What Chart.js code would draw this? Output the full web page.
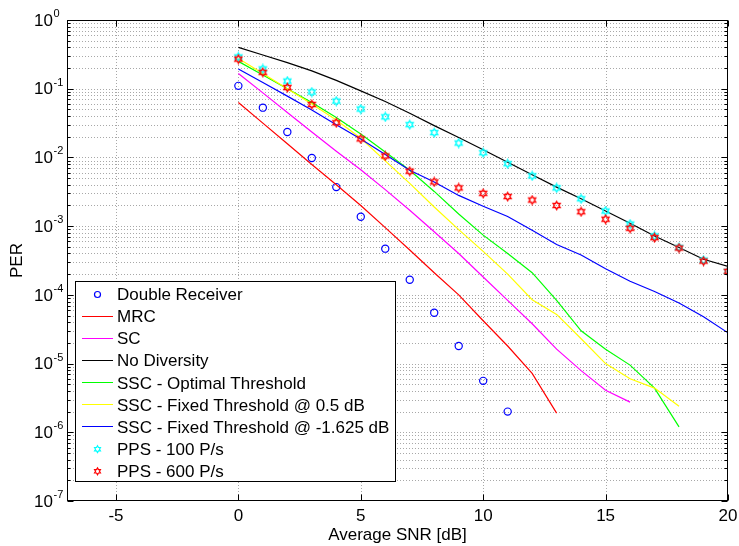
<!DOCTYPE html>
<html>
<head>
<meta charset="utf-8">
<title>PER vs Average SNR</title>
<script src="https://cdn.jsdelivr.net/npm/chart.js@4.4.1/dist/chart.umd.min.js"></script>
<style>
  html, body { margin: 0; padding: 0; background: #fff; }
  #wrap { width: 739px; height: 546px; }
</style>
</head>
<body>
<div id="wrap"><canvas id="perChart"></canvas></div>
<script>
// SNR points (dB), every curve starts at 0 dB
const snr = [0, 1, 2, 3, 4, 5, 6, 7, 8, 9, 10, 11, 12, 13, 14, 15, 16, 17, 18, 19, 20];

// PER values
const doubleReceiver = [0.11, 0.053, 0.0234, 0.0098, 0.0037, 0.00137, 4.7e-4, 1.66e-4, 5.5e-5, 1.8e-5, 5.6e-6, 2.0e-6];
const mrc = [0.063, 0.0316, 0.0158, 0.0079, 0.0040, 0.0020, 9.5e-4, 4.5e-4, 2.1e-4, 1.0e-4, 4.2e-5, 1.8e-5, 7.2e-6, 1.9e-6];
const sc = [0.166, 0.087, 0.045, 0.0234, 0.0123, 0.0066, 0.0034, 0.0017, 8.3e-4, 4.0e-4, 1.82e-4, 8.3e-5, 3.8e-5, 1.62e-5, 7.9e-6, 4.1e-6, 2.75e-6];
const noDiversity = [0.40, 0.31, 0.24, 0.182, 0.132, 0.093, 0.065, 0.044, 0.029, 0.0195, 0.0129, 0.0085, 0.0056, 0.0037, 0.0025, 0.00166, 0.0011, 7.2e-4, 4.9e-4, 3.3e-4, 2.6e-4];
const sscOptimal = [0.25, 0.158, 0.10, 0.063, 0.038, 0.022, 0.012, 0.0065, 0.0032, 0.0015, 7.4e-4, 4.0e-4, 2.1e-4, 8.3e-5, 3.0e-5, 1.62e-5, 9.5e-6, 4.4e-6, 1.2e-6];
const sscFixed05 = [0.275, 0.166, 0.10, 0.060, 0.035, 0.019, 0.0089, 0.0042, 0.0019, 8.9e-4, 4.3e-4, 2.0e-4, 8.5e-5, 5.2e-5, 2.3e-5, 1.0e-5, 6.0e-6, 4.4e-6, 2.4e-6];
const sscFixedNeg = [0.194, 0.123, 0.078, 0.049, 0.030, 0.0186, 0.011, 0.0065, 0.0044, 0.0028, 0.00195, 0.00138, 8.7e-4, 5.4e-4, 3.8e-4, 2.4e-4, 1.58e-4, 1.12e-4, 7.6e-5, 4.8e-5, 2.8e-5];
const pps100 = [0.29, 0.194, 0.129, 0.0895, 0.066, 0.0506, 0.039, 0.030, 0.023, 0.0162, 0.0117, 0.0081, 0.0054, 0.0036, 0.0025, 0.00166, 0.00107, 7.2e-4, 4.9e-4, 3.2e-4, 2.2e-4];
const pps600 = [0.27, 0.173, 0.104, 0.059, 0.032, 0.0186, 0.0105, 0.0063, 0.0044, 0.0036, 0.0030, 0.0027, 0.0024, 0.0020, 0.00162, 0.00126, 9.3e-4, 6.8e-4, 4.8e-4, 3.1e-4, 2.2e-4];

const seriesNames = ['Double Receiver', 'MRC', 'SC', 'No Diversity', 'SSC - Optimal Threshold',
  'SSC - Fixed Threshold @ 0.5 dB', 'SSC - Fixed Threshold @ -1.625 dB', 'PPS - 100 P/s', 'PPS - 600 P/s'];
const seriesColors = ['#0000ff', '#ff0000', '#ff00ff', '#000000', '#00ff00', '#ffff00', '#0000ff', '#00ffff', '#ff0000'];
const xTicks = [-5, 0, 5, 10, 15, 20];
const yExponents = [0, -1, -2, -3, -4, -5, -6, -7];

const FONT = '"Liberation Sans", Arial, sans-serif';

function pts(vals) {
  return vals.map((v, i) => ({ x: snr[i], y: v }));
}

// matlab-like hexagram marker
function hexagramPath(ctx, cx, cy, R) {
  const r = R / Math.sqrt(3);
  ctx.beginPath();
  for (let k = 0; k < 12; k++) {
    const ang = -Math.PI / 2 + k * Math.PI / 6;
    const rad = k % 2 === 0 ? R : r;
    const px = cx + rad * Math.cos(ang), py = cy + rad * Math.sin(ang);
    if (k === 0) ctx.moveTo(px, py); else ctx.lineTo(px, py);
  }
  ctx.closePath();
}
function hexagramImage(color) {
  const c = document.createElement('canvas');
  c.width = 11; c.height = 11;
  const g = c.getContext('2d');
  g.strokeStyle = color;
  g.lineWidth = 1.4;
  hexagramPath(g, 5.5, 5.5, 4.0);
  g.stroke();
  return c;
}

function lineSet(i, vals) {
  return { label: seriesNames[i], data: pts(vals), borderColor: seriesColors[i], backgroundColor: seriesColors[i],
    borderWidth: 1.2, pointRadius: 0, showLine: true, tension: 0 };
}
function markerSet(i, vals, style) {
  return { label: seriesNames[i], data: pts(vals), borderColor: seriesColors[i], backgroundColor: 'rgba(0,0,0,0)',
    borderWidth: 1.2, pointRadius: 3.6, pointStyle: style, showLine: false };
}

const datasets = [
  markerSet(0, doubleReceiver, 'circle'),
  lineSet(1, mrc),
  lineSet(2, sc),
  lineSet(3, noDiversity),
  lineSet(4, sscOptimal),
  lineSet(5, sscFixed05),
  lineSet(6, sscFixedNeg),
  markerSet(7, pps100, hexagramImage(seriesColors[7])),
  markerSet(8, pps600, hexagramImage(seriesColors[8]))
];
// later series on top, like the original plot order
datasets.forEach((d, i) => { d.order = datasets.length - i; });

const matlabFrame = {
  id: 'matlabFrame',
  beforeDatasetsDraw(chart) {
    const { ctx, chartArea: a, scales: { x, y } } = chart;
    ctx.save();
    ctx.strokeStyle = '#a8a8a8';
    ctx.lineWidth = 1;
    ctx.setLineDash([1, 2]);
    ctx.beginPath();
    xTicks.forEach(v => {
      const px = Math.round(x.getPixelForValue(v)) + 0.5;
      if (px > a.right - 1) return;
      ctx.moveTo(px, a.top); ctx.lineTo(px, a.bottom);
    });
    for (let e = -7; e < 0; e++) {
      for (let m = 1; m < 10; m++) {
        const py = Math.round(y.getPixelForValue(m * Math.pow(10, e))) + 0.5;
        if (py > a.bottom - 1) continue;
        ctx.moveTo(a.left, py); ctx.lineTo(a.right, py);
      }
    }
    ctx.stroke();
    ctx.restore();
  },
  afterDraw(chart) {
    const { ctx, chartArea: a, scales: { x, y } } = chart;
    ctx.save();
    ctx.setLineDash([]);
    ctx.strokeStyle = '#000';
    ctx.lineWidth = 1;
    const L = Math.round(a.left) + 0.5, R = Math.round(a.right) - 0.5;
    const T = Math.round(a.top) + 0.5, B = Math.round(a.bottom) - 0.5;
    ctx.strokeRect(L, T, R - L, B - T);

    // inward ticks
    ctx.beginPath();
    xTicks.forEach(v => {
      const px = Math.round(x.getPixelForValue(v)) + 0.5;
      ctx.moveTo(px, B); ctx.lineTo(px, B - 6);
      ctx.moveTo(px, T); ctx.lineTo(px, T + 6);
    });
    for (let e = -7; e <= 0; e++) {
      for (let m = 1; m < 10; m++) {
        if (e === 0 && m > 1) break;
        const py = Math.round(y.getPixelForValue(m * Math.pow(10, e))) + 0.5;
        const len = m === 1 ? 6 : 3;
        ctx.moveTo(L, py); ctx.lineTo(L + len, py);
        ctx.moveTo(R, py); ctx.lineTo(R - len, py);
      }
    }
    ctx.stroke();

    // tick labels
    ctx.fillStyle = '#000';
    ctx.font = '17px ' + FONT;
    ctx.textAlign = 'center';
    ctx.textBaseline = 'middle';
    xTicks.forEach(v => ctx.fillText(String(v), x.getPixelForValue(v), 516));
    yExponents.forEach(e => {
      const py = y.getPixelForValue(Math.pow(10, e));
      ctx.font = '17px ' + FONT;
      ctx.textAlign = 'right';
      ctx.textBaseline = 'middle';
      ctx.fillText('10', 53, py + 1);
      ctx.font = '11px ' + FONT;
      ctx.textAlign = 'left';
      ctx.textBaseline = 'alphabetic';
      ctx.fillText(String(e), 53.5, py - 3);
    });

    // axis titles
    ctx.font = '17px ' + FONT;
    ctx.textAlign = 'center';
    ctx.textBaseline = 'middle';
    ctx.fillText('Average SNR [dB]', (a.left + a.right) / 2, 535);
    ctx.save();
    ctx.translate(17, (a.top + a.bottom) / 2);
    ctx.rotate(-Math.PI / 2);
    ctx.fillText('PER', 0, 0);
    ctx.restore();

    // legend box
    const bx = 75.5, by = 281.5, bw = 320, bh = 200;
    ctx.fillStyle = '#fff';
    ctx.fillRect(bx, by, bw, bh);
    ctx.strokeStyle = '#000';
    ctx.lineWidth = 1;
    ctx.strokeRect(bx, by, bw, bh);
    seriesNames.forEach((name, i) => {
      const ly = 294.5 + i * 22.1;
      const col = seriesColors[i];
      const d = chart.data.datasets[i];
      if (d.showLine) {
        let row = Math.round(ly);
        if (row % 2) row -= 1;
        ctx.fillStyle = col;
        ctx.fillRect(82, row, 31, 1);
      } else if (d.pointStyle === 'circle') {
        ctx.strokeStyle = col;
        ctx.lineWidth = 1.2;
        ctx.beginPath();
        ctx.arc(97.5, ly, 3, 0, Math.PI * 2);
        ctx.stroke();
      } else {
        ctx.strokeStyle = col;
        ctx.lineWidth = 1.2;
        hexagramPath(ctx, 97.5, ly, 3.4);
        ctx.stroke();
      }
      ctx.fillStyle = '#000';
      ctx.font = '17px ' + FONT;
      ctx.textAlign = 'left';
      ctx.textBaseline = 'middle';
      ctx.fillText(name, 117, ly + 1);
    });
    ctx.restore();
  }
};

new Chart(document.getElementById('perChart'), {
  type: 'scatter',
  data: { datasets },
  options: {
    responsive: true,
    maintainAspectRatio: false,
    animation: false,
    layout: { padding: { top: 20, right: 11, left: 0, bottom: 0 } },
    plugins: { legend: { display: false }, tooltip: { enabled: false } },
    scales: {
      x: {
        type: 'linear', min: -7, max: 20,
        grid: { display: false }, border: { display: false },
        ticks: { display: false },
        afterFit: s => { s.height = 45; }
      },
      y: {
        type: 'logarithmic', min: 1e-7, max: 1,
        grid: { display: false }, border: { display: false },
        ticks: { display: false },
        afterFit: s => { s.width = 67; }
      }
    }
  },
  plugins: [matlabFrame]
});
</script>
</body>
</html>
